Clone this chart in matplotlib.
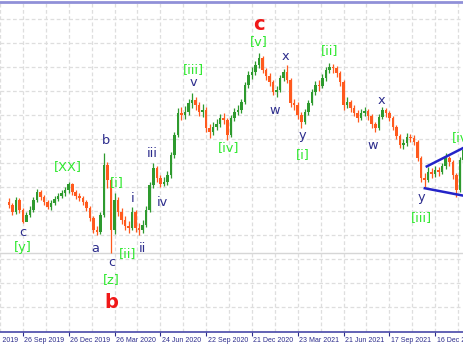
import matplotlib.pyplot as plt
from matplotlib.transforms import blended_transform_factory

# weekly candles, bar 0 = week of 26 Sep 2019
first_bar = -4
first_open = 98
closes = [95, 88, 100, 90, 78, 85, 90, 100, 108, 103,
          98, 93, 97, 101, 104, 107, 110, 116, 108, 104,
          102, 98, 92, 82, 70, 68, 85, 135, 120, 70,
          100, 88, 80, 74, 72, 88, 72, 70, 75, 90,
          115, 132, 122, 116, 118, 125, 145, 165, 187, 185,
          188, 197, 200, 195, 188, 190, 172, 168, 173, 176,
          182, 180, 165, 182, 188, 190, 198, 215, 225, 228,
          235, 242, 230, 224, 218, 208, 210, 222, 228, 220,
          197, 195, 185, 178, 188, 197, 208, 215, 214, 222,
          230, 233, 232, 227, 218, 195, 198, 192, 187, 182,
          187, 189, 184, 176, 172, 183, 190, 187, 182, 173,
          164, 155, 157, 163, 162, 158, 142, 122, 120, 128,
          126, 130, 128, 134, 142, 138, 125, 110, 140, 150]
highs = [102, 97, 103, 102, 92, 88, 94, 103, 111, 110,
         105, 100, 100, 104, 107, 110, 113, 118, 117, 110,
         107, 104, 100, 94, 84, 74, 88, 147, 138, 122,
         107, 103, 92, 84, 79, 93, 90, 77, 80, 94,
         118, 137, 134, 125, 123, 129, 148, 168, 192, 193,
         194, 201, 207, 203, 198, 196, 193, 176, 178, 181,
         186, 187, 182, 185, 192, 195, 201, 218, 229, 233,
         239, 247, 244, 232, 227, 220, 214, 225, 231, 235,
         222, 201, 198, 188, 191, 200, 211, 219, 220, 226,
         233, 237, 236, 234, 229, 220, 203, 200, 195, 190,
         191, 193, 191, 186, 178, 186, 193, 192, 189, 184,
         175, 166, 161, 167, 166, 165, 160, 144, 127, 133,
         132, 134, 133, 137, 147, 144, 140, 127, 143, 153]
lows = [92, 85, 86, 87, 77, 80, 83, 88, 98, 100,
        95, 91, 90, 95, 99, 102, 104, 107, 105, 101,
        99, 95, 89, 79, 67, 65, 66, 83, 112, 47,
        66, 84, 76, 70, 67, 70, 68, 65, 67, 73,
        88, 112, 118, 113, 114, 115, 122, 142, 163, 180,
        181, 185, 192, 190, 184, 183, 168, 162, 165, 170,
        173, 176, 160, 163, 179, 185, 187, 196, 212, 221,
        225, 232, 227, 220, 214, 205, 203, 208, 219, 217,
        193, 190, 181, 172, 176, 185, 195, 205, 209, 212,
        219, 227, 227, 223, 214, 190, 192, 188, 184, 178,
        180, 184, 180, 172, 168, 170, 181, 183, 179, 170,
        161, 152, 151, 154, 158, 155, 139, 118, 113, 118,
        122, 123, 124, 126, 131, 134, 121, 103, 108, 137]

date_labels = ['27 Jun 2019', '26 Sep 2019', '26 Dec 2019', '26 Mar 2020',
               '24 Jun 2020', '22 Sep 2020', '21 Dec 2020', '23 Mar 2021',
               '21 Jun 2021', '17 Sep 2021', '16 Dec 2021']
bars_per_label = 13

# wave labels: (text, bar, price)
navy_labels = [('c', 0, 67), ('a', 20.4, 51), ('b', 23.5, 160), ('c', 25.2, 37),
               ('i', 31.1, 102), ('ii', 33.9, 52), ('iii', 36.7, 147),
               ('iv', 39.5, 98), ('v', 48.5, 217), ('w', 71.4, 190),
               ('x', 74.5, 243), ('y', 79.3, 165), ('w', 99.4, 155),
               ('x', 101.7, 200), ('y', 113.2, 103)]
green_labels = [('[y]', 0, 52), ('[XX]', 12.9, 133), ('[i]', 26.6, 117),
                ('[ii]', 29.8, 46), ('[z]', 25.2, 20), ('[iii]', 48.5, 230),
                ('[iv]', 58.3, 152), ('[v]', 67, 258), ('[i]', 79.3, 145),
                ('[ii]', 87.1, 249), ('[iii]', 113.2, 82), ('[iv]', 124.8, 162)]
red_labels = [('c', 67, 276), ('b', 25.2, -3)]

# triangle (bar, price) pairs
tri_upper = [(114.3, 133), (125.5, 153)]
tri_lower = [(113.7, 112), (125.5, 104)]
hline_level = 47

up_col = '#2e9a2e'
dn_col = '#ff5a1e'
navy = '#2c2c8c'
green = '#2ee82e'

fig = plt.figure(figsize=(4.63, 3.48), dpi=100)
ax = fig.add_axes([0, 16 / 348, 1, 330.5 / 348])

n = len(closes)
xs = list(range(first_bar, first_bar + n))
opens = [first_open] + closes[:-1]
cols = [up_col if c >= o else dn_col for o, c in zip(opens, closes)]

ax.vlines(xs, lows, highs, colors=cols, lw=0.9, zorder=3)
bottoms = [min(o, c) for o, c in zip(opens, closes)]
heights = [max(abs(c - o), 0.8) for o, c in zip(opens, closes)]
ax.bar(xs, heights, bottom=bottoms, width=0.72, color=cols, zorder=4)

ax.plot(*zip(*tri_upper), color='#2323c8', lw=1.8, zorder=5, solid_capstyle='butt')
ax.plot(*zip(*tri_lower), color='#2323c8', lw=1.8, zorder=5, solid_capstyle='butt')
ax.axhline(hline_level, color='#d6d6d6', lw=1, zorder=1)

for t, x, y in navy_labels:
    ax.text(x, y, t, color=navy, fontsize=9.3, ha='center', va='center', zorder=6)
for t, x, y in green_labels:
    ax.text(x, y, t, color=green, fontsize=9.3, ha='center', va='center', zorder=6)
for t, x, y in red_labels:
    ax.text(x, y, t, color='#f01818', fontsize=14, fontweight='bold',
            ha='center', va='center', zorder=6)

ax.set_xlim(-4.76, 124.9)
ax.set_ylim(-32, 298.5)

tick_pos = [bars_per_label * (k - 1) for k in range(len(date_labels))]
ax.set_xticks(tick_pos[1:])
ax.set_xticklabels([])
ax.set_xticks([p + bars_per_label / 2 for p in tick_pos], minor=True)
ax.tick_params(axis='x', which='major', length=3, color=navy, width=0.8)
ax.tick_params(axis='x', which='minor', length=0)
ax.set_yticks([-7 + 24 * k for k in range(13)])
ax.set_yticklabels([])
ax.tick_params(axis='y', length=0)
ax.grid(True, which='both', color='#dedede', lw=0.9, ls=(0, (3, 2)), zorder=0)

trans = blended_transform_factory(ax.transData, ax.transAxes)
for p, lab in zip(tick_pos, date_labels):
    ax.text(p + 0.4, -0.026, lab, transform=trans, fontsize=5,
            family='Liberation Sans', color=navy, ha='left', va='center',
            clip_on=False)

for s in ['left', 'right']:
    ax.spines[s].set_visible(False)
ax.spines['top'].set_color('#9090d8')
ax.spines['top'].set_linewidth(2)
ax.spines['bottom'].set_color('#4848a8')
ax.spines['bottom'].set_linewidth(1.2)

fig.savefig('out.png', dpi=100)
